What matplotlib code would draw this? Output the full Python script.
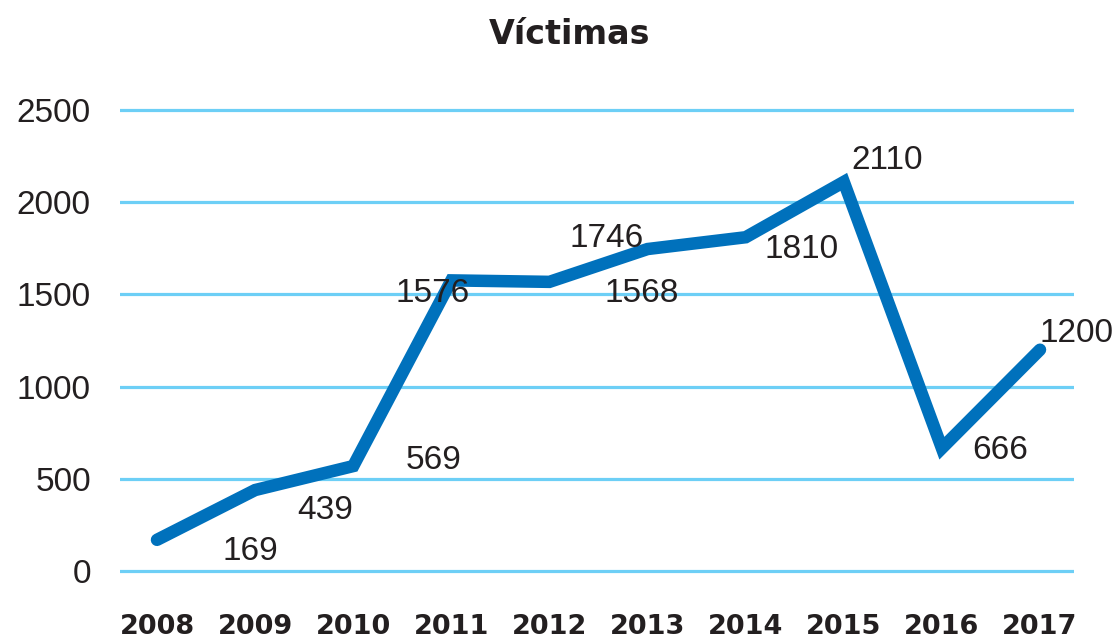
import matplotlib
matplotlib.use('Agg')
import matplotlib.pyplot as plt

# data
years = ['2008', '2009', '2010', '2011', '2012', '2013', '2014', '2015', '2016', '2017']
victimas = [169, 439, 569, 1576, 1568, 1746, 1810, 2110, 666, 1200]
y_ticks = [0, 500, 1000, 1500, 2000, 2500]

# label offsets (pixels) from each point, as placed in the original
label_offsets = [(93, -20), (70, -29), (80, -3), (-19, -22), (92, -20),
                 (-41, 2), (56, -21), (43, 13), (58, -11), (36, 8)]

line_color = '#0071BC'
grid_color = '#6DCFF6'
text_color = '#231F20'

W, H = 1116, 641
fig = plt.figure(figsize=(W / 100, H / 100), dpi=100)

# axes box in pixels (x from left, y from top)
px_per_unit = (571 - 110) / 2500.0
y_lo, y_hi = -60, 2560
ax_top = 110 - (y_hi - 2500) * px_per_unit
ax_bot = 571 + (0 - y_lo) * px_per_unit
ax_left, ax_right = 120, 1074
ax = fig.add_axes([ax_left / W, 1 - ax_bot / H, (ax_right - ax_left) / W, (ax_bot - ax_top) / H])

step = (1040 - 157) / 9.0
ax.set_xlim((ax_left - 157) / step, (ax_right - 157) / step)
ax.set_ylim(y_lo, y_hi)

xs = list(range(len(years)))
ax.plot(xs, victimas, color=line_color, lw=9, solid_capstyle='round',
        solid_joinstyle='miter', clip_on=False, zorder=3)

for x, v, (dx, dy) in zip(xs, victimas, label_offsets):
    ax.annotate(str(v), (x, v), xytext=(dx, dy), textcoords='offset pixels',
                ha='center', va='baseline', fontsize=24, family='Liberation Sans',
                color=text_color, zorder=4)

ax.set_yticks(y_ticks)
ax.set_yticklabels([str(t) for t in y_ticks], family='Liberation Sans', fontsize=24, color=text_color)
ax.set_xticks(xs)
ax.set_xticklabels(years, family='DejaVu Sans', fontweight='bold', fontsize=19.5, color=text_color)
ax.tick_params(axis='y', length=0, pad=21)
ax.tick_params(axis='x', length=0, pad=23)

ax.grid(axis='y', color=grid_color, lw=2.3, zorder=1)
ax.grid(axis='x', visible=False)
for s in ax.spines.values():
    s.set_visible(False)

fig.text(570 / W, 1 - 35 / H, 'Víctimas', ha='center', va='center', fontsize=24,
         fontweight='bold', family='DejaVu Sans', color=text_color)

fig.savefig('out.png', dpi=100)
